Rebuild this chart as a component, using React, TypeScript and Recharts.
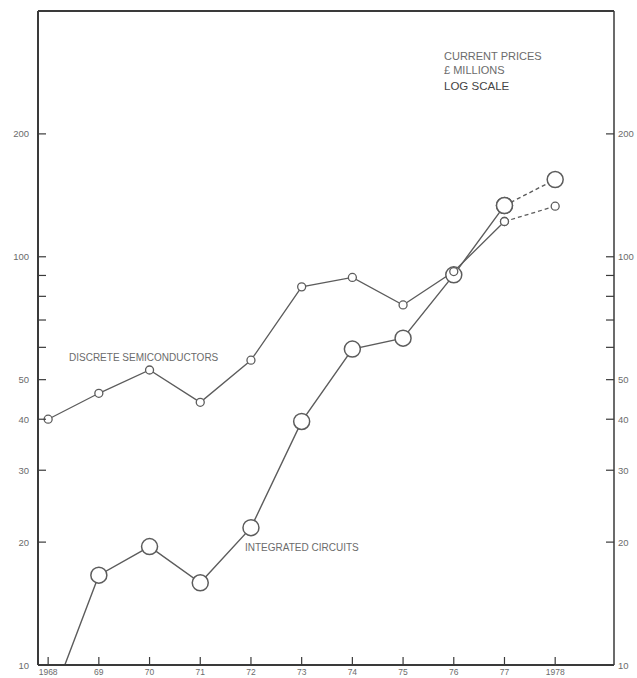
import React from "react";
import { LineChart, Line, XAxis, YAxis } from "recharts";

// values (£ millions, current prices, log scale)
const years = [1968, 1969, 1970, 1971, 1972, 1973, 1974, 1975, 1976, 1977, 1978];
const yearLabels = ["1968", "69", "70", "71", "72", "73", "74", "75", "76", "77", "1978"];
const discrete = [40, 46.3, 52.8, 44, 55.8, 84.4, 89, 76.2, 92, 122, 133];
const integrated = [7.8, 16.6, 19.5, 15.9, 21.7, 39.5, 59.4, 63.2, 90.3, 133.5, 154.6];
const yTicks = [10, 20, 30, 40, 50, 60, 70, 80, 90, 100, 200];
const yLabelled = [10, 20, 30, 40, 50, 100, 200];

// last known year is 1977, 1978 is drawn dashed
const lastSolid = 9;

const data = years.map((year, i) => ({
  year,
  discrete: i <= lastSolid ? discrete[i] : null,
  discreteEst: i >= lastSolid ? discrete[i] : null,
  ic: i <= lastSolid ? integrated[i] : null,
  icEst: i >= lastSolid ? integrated[i] : null,
}));

const INK = "#3a3a3a";
const LINE = "#5c5c5c";
const TEXT = "#6b6b6b";
const FONT = "'Liberation Sans', Arial, sans-serif";

function LeftTick({ x, y, payload }: any) {
  const v = payload.value;
  return (
    <g>
      <line x1={x} y1={y} x2={x + 8} y2={y} stroke={INK} strokeWidth={1.2} />
      {yLabelled.includes(v) && (
        <text x={x - 9} y={y} dy={3.5} textAnchor="end" fontSize={9.5} fill={TEXT} fontFamily={FONT}>
          {v}
        </text>
      )}
    </g>
  );
}

function RightTick({ x, y, payload }: any) {
  const v = payload.value;
  return (
    <g>
      <line x1={x} y1={y} x2={x - 8} y2={y} stroke={INK} strokeWidth={1.2} />
      {yLabelled.includes(v) && (
        <text x={x + 4} y={y} dy={3.5} textAnchor="start" fontSize={9.5} fill={TEXT} fontFamily={FONT}>
          {v}
        </text>
      )}
    </g>
  );
}

function BottomTick({ x, y, index }: any) {
  return (
    <g>
      <line x1={x} y1={y} x2={x} y2={y - 8} stroke={INK} strokeWidth={1.2} />
      <text x={x} y={y + 10} textAnchor="middle" fontSize={8.5} fill={TEXT} fontFamily={FONT}>
        {yearLabels[index]}
      </text>
    </g>
  );
}

const smallDot = { r: 4, fill: "#fff", stroke: LINE, strokeWidth: 1.3, strokeDasharray: "0" };
const bigDot = { r: 8, fill: "#fff", stroke: LINE, strokeWidth: 1.5, strokeDasharray: "0" };

export default function App() {
  return (
    <div style={{ position: "absolute", left: 0, top: 0, width: 637, height: 678, background: "#fff" }}>
      <LineChart
        width={637}
        height={678}
        data={data}
        margin={{ top: 0, right: 0, bottom: 0, left: 0 }}
      >
        <XAxis
          dataKey="year"
          type="number"
          domain={[1967.8, 1979.16]}
          allowDataOverflow
          ticks={years}
          interval={0}
          height={13}
          tickSize={0}
          tickMargin={0}
          tick={<BottomTick />}
          axisLine={{ stroke: INK, strokeWidth: 2 }}
        />
        <XAxis
          xAxisId="top"
          orientation="top"
          dataKey="year"
          type="number"
          domain={[1967.8, 1979.16]}
          height={11}
          tick={false}
          tickLine={false}
          axisLine={{ stroke: INK, strokeWidth: 2 }}
        />
        <YAxis
          scale="log"
          domain={[10, 400]}
          allowDataOverflow
          ticks={yTicks}
          interval={0}
          width={38}
          tickSize={0}
          tickMargin={0}
          tick={<LeftTick />}
          axisLine={{ stroke: INK, strokeWidth: 2 }}
        />
        <YAxis
          yAxisId="right"
          orientation="right"
          scale="log"
          domain={[10, 400]}
          allowDataOverflow
          ticks={yTicks}
          interval={0}
          width={23}
          tickSize={0}
          tickMargin={0}
          tick={<RightTick />}
          axisLine={{ stroke: INK, strokeWidth: 1.5 }}
        />
        <Line dataKey="ic" stroke={LINE} strokeWidth={1.4} dot={bigDot} isAnimationActive={false} />
        <Line dataKey="icEst" stroke={LINE} strokeWidth={1.4} strokeDasharray="4 3" dot={bigDot} isAnimationActive={false} />
        <Line dataKey="discrete" stroke={LINE} strokeWidth={1.3} dot={smallDot} isAnimationActive={false} />
        <Line dataKey="discreteEst" stroke={LINE} strokeWidth={1.3} strokeDasharray="4 3" dot={smallDot} isAnimationActive={false} />
      </LineChart>
      <svg width={637} height={678} style={{ position: "absolute", left: 0, top: 0, pointerEvents: "none" }}>
        <g fontFamily={FONT} fill={TEXT}>
          <text x={444} y={60} fontSize={11}>CURRENT PRICES</text>
          <text x={444} y={74} fontSize={11}>£ MILLIONS</text>
          <text x={444} y={90} fontSize={11.5} fill="#444">LOG SCALE</text>
          <text x={69} y={361} fontSize={10}>DISCRETE SEMICONDUCTORS</text>
          <text x={245} y={551} fontSize={10}>INTEGRATED CIRCUITS</text>
        </g>
      </svg>
    </div>
  );
}
